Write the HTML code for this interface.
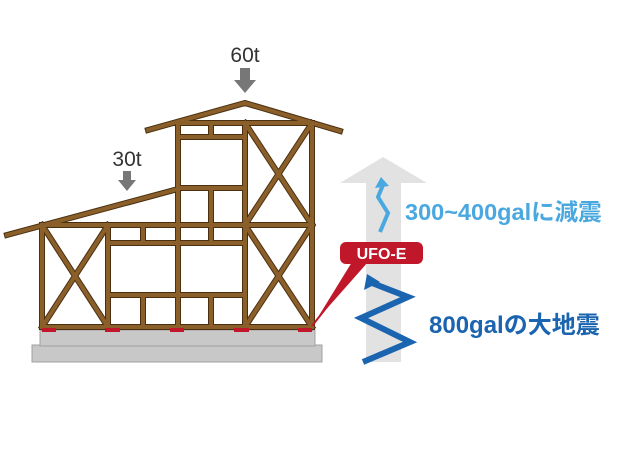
<!DOCTYPE html>
<html><head><meta charset="utf-8"><style>
body{margin:0;background:#fff;}
svg{display:block;}
</style></head><body>
<svg width="629" height="464" viewBox="0 0 629 464" xmlns="http://www.w3.org/2000/svg">
<rect x="32" y="345" width="290" height="17" fill="#c8c8c8" stroke="#a0a0a0" stroke-width="1"/>
<rect x="40" y="330" width="275" height="16" fill="#c8c8c8" stroke="#a0a0a0" stroke-width="1"/>
<g stroke="#4a3010" stroke-width="6" stroke-linecap="square" fill="none">
<path d="M7,235 L178,189 M148,130 L245,103 L340,131
M42,225 V327 M108,225 V327 M178,123 V327 M245,123 V327 M312,123 V327
M42,225 H312 M42,327 H312 M178,123 H312 M178,137 H245 M178,188 H245 M108,243 H245 M108,295 H245
M211,123 V137 M211,188 V243 M143,225 V243 M143,295 V327 M211,295 V327
M42,225 L108,327 M108,225 L42,327 M245,123 L312,225 M312,123 L245,225 M245,225 L312,327 M312,225 L245,327"/>
</g>
<g stroke="#8a5f2a" stroke-width="4" stroke-linecap="square" fill="none">
<path d="M7,235 L178,189 M148,130 L245,103 L340,131
M42,225 V327 M108,225 V327 M178,123 V327 M245,123 V327 M312,123 V327
M42,225 H312 M42,327 H312 M178,123 H312 M178,137 H245 M178,188 H245 M108,243 H245 M108,295 H245
M211,123 V137 M211,188 V243 M143,225 V243 M143,295 V327 M211,295 V327
M42,225 L108,327 M108,225 L42,327 M245,123 L312,225 M312,123 L245,225 M245,225 L312,327 M312,225 L245,327"/>
</g>
<g fill="#c0182a">
<rect x="42" y="328" width="14" height="4"/><rect x="105" y="328" width="15" height="4"/><rect x="170" y="328" width="14" height="4"/><rect x="234" y="328" width="15" height="4"/><rect x="298" y="328" width="14" height="4"/>
</g>
<text x="245" y="62" font-family="Liberation Sans, sans-serif" font-size="21" fill="#333" text-anchor="middle">60t</text>
<path d="M240,68 H250 V80 H256 L245,93 L234,80 H240 Z" fill="#777"/>
<text x="127" y="166" font-family="Liberation Sans, sans-serif" font-size="21" fill="#333" text-anchor="middle">30t</text>
<path d="M123,171 H131 V180 H136 L127,191 L118,180 H123 Z" fill="#777"/>
<path d="M366,362 V183 H340 L383,157 L427,183 H401 V362 Z" fill="#e2e2e2"/>
<polyline points="380,232 388,213 378,197 383,185" fill="none" stroke="#4aa8e0" stroke-width="4"/>
<path d="M375,188 L381,177 L389,186 Z" fill="#4aa8e0"/>
<text x="405" y="220" font-family="Liberation Sans, 'Noto Sans CJK JP', sans-serif" font-size="23.5" font-weight="bold" fill="#4aa8e0">300~400galに減震</text>
<path d="M352,262 L368,262 L315,322 Z" fill="#c0182a"/>
<line x1="362" y1="262" x2="312" y2="326" stroke="#c0182a" stroke-width="2"/>
<rect x="340" y="242" width="83" height="22" rx="6" fill="#c0182a"/>
<text x="381.5" y="259" font-family="Liberation Sans, sans-serif" font-size="16" font-weight="bold" fill="#fff" text-anchor="middle">UFO-E</text>
<polyline points="363,362 410,342 361,318 408,297 372,283" fill="none" stroke="#1a64b0" stroke-width="6"/>
<path d="M364,290 L367,274 L380,282 Z" fill="#1a64b0"/>
<text x="429" y="333" font-family="Liberation Sans, 'Noto Sans CJK JP', sans-serif" font-size="24" font-weight="bold" fill="#1a64b0">800galの大地震</text>
</svg>
</body></html>
